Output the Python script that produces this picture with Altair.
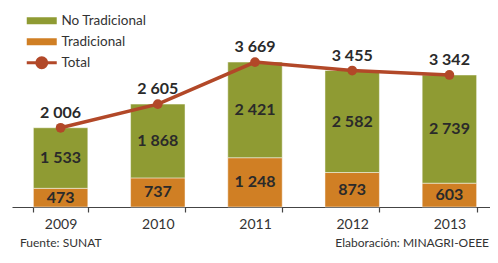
import altair as alt
import pandas as pd

anios = ["2009", "2010", "2011", "2012", "2013"]
tradicional = [473, 737, 1248, 873, 603]
no_tradicional = [1533, 1868, 2421, 2582, 2739]
total = [2006, 2605, 3669, 3455, 3342]
fuente = ["Fuente: SUNAT"]
elaboracion = ["Elaboración: MINAGRI-OEEE"]

GREEN = "#8F9B33"
ORANGE = "#D07F24"
RED = "#B24828"
FONT = "Lato"
TXT = "#2a2a2a"


def fmt(v):
    return f"{v:,}".replace(",", " ")


rows = []
for a, t, n in zip(anios, tradicional, no_tradicional):
    rows.append({"anio": a, "serie": "Tradicional", "valor": t, "orden": 0, "etiqueta": fmt(t)})
    rows.append({"anio": a, "serie": "No Tradicional", "valor": n, "orden": 1, "etiqueta": fmt(n)})
df = pd.DataFrame(rows)
df_tot = pd.DataFrame({"anio": anios, "valor": total, "serie": ["Total"] * len(anios),
                       "etiqueta": [fmt(v) for v in total]})

x = alt.X("anio:N", title=None,
          scale=alt.Scale(paddingInner=0.44, paddingOuter=0.22, range=[0, 486]),
          axis=alt.Axis(labelAngle=0, tickBand="extent", domainColor="#444", tickColor="#444",
                        tickSize=5, domainWidth=1.2, tickWidth=1.2, labelFontSize=14,
                        labelColor="#333", labelPadding=5, labelFont=FONT))
yscale = alt.Scale(domain=[0, 4000])

bars = alt.Chart(df).mark_bar(stroke="white", strokeWidth=0.8, strokeOpacity=0.6).encode(
    x=x,
    y=alt.Y("valor:Q", stack="zero", scale=yscale, axis=None),
    color=alt.Color("serie:N",
                    scale=alt.Scale(domain=["No Tradicional", "Tradicional"], range=[GREEN, ORANGE]),
                    legend=alt.Legend(title=None, orient="none", legendX=23, legendY=-35,
                                      symbolType="M-3,-0.7H3V0.7H-3Z", symbolSize=100,
                                      symbolStrokeWidth=0, labelFontSize=13.5, labelFont=FONT,
                                      labelColor="#333", rowPadding=6, labelOffset=13)),
    order=alt.Order("orden:Q"),
)

seg_text = alt.Chart(df).transform_stack(
    stack="valor", groupby=["anio"], sort=[alt.SortField("orden")], as_=["y0", "y1"]
).transform_calculate(mid="(datum.y0 + datum.y1) / 2").mark_text(
    font=FONT, fontWeight="bold", fontSize=16, color=TXT
).encode(
    x=x, y=alt.Y("mid:Q", scale=yscale, axis=None), text="etiqueta:N"
)

line = alt.Chart(df_tot).mark_line(strokeWidth=3.5, point=alt.OverlayMarkDef(filled=True, size=95)).encode(
    x=x,
    y=alt.Y("valor:Q", scale=yscale, axis=None),
    color=alt.Color("serie:N", scale=alt.Scale(domain=["Total"], range=[RED]),
                    legend=alt.Legend(title=None, orient="none", legendX=23, legendY=7,
                                      symbolType="M-3,0H3M1,0A1,1,0,1,1,-1,0A1,1,0,1,1,1,0Z",
                                      symbolSize=100, symbolStrokeWidth=3, symbolStrokeColor=RED,
                                      symbolFillColor=RED, labelFontSize=13.5, labelFont=FONT,
                                      labelColor="#333", labelOffset=13)),
)

tot_text = alt.Chart(df_tot).mark_text(font=FONT, fontWeight="bold", fontSize=16, color=TXT, dy=-15).encode(
    x=x, y=alt.Y("valor:Q", scale=yscale, axis=None), text="etiqueta:N"
)

pie_izq = alt.Chart(pd.DataFrame({"t": fuente})).mark_text(
    align="left", baseline="alphabetic", fontSize=12, font=FONT, color="#333"
).encode(x=alt.value(8), y=alt.value(198), text="t:N")

pie_der = alt.Chart(pd.DataFrame({"t": elaboracion})).mark_text(
    align="right", baseline="alphabetic", fontSize=12, font=FONT, color="#333"
).encode(x=alt.value(477), y=alt.value(198), text="t:N")

chart = alt.layer(bars, seg_text, line, tot_text, pie_izq, pie_der).resolve_scale(
    color="independent"
).properties(
    width=477, height=158,
    autosize=alt.AutoSizeParams(type="none"),
    padding={"left": 4, "right": 1, "top": 41, "bottom": 43},
).configure_view(stroke=None)

chart.save("out.html", embed_options={"renderer": "svg", "actions": False})
